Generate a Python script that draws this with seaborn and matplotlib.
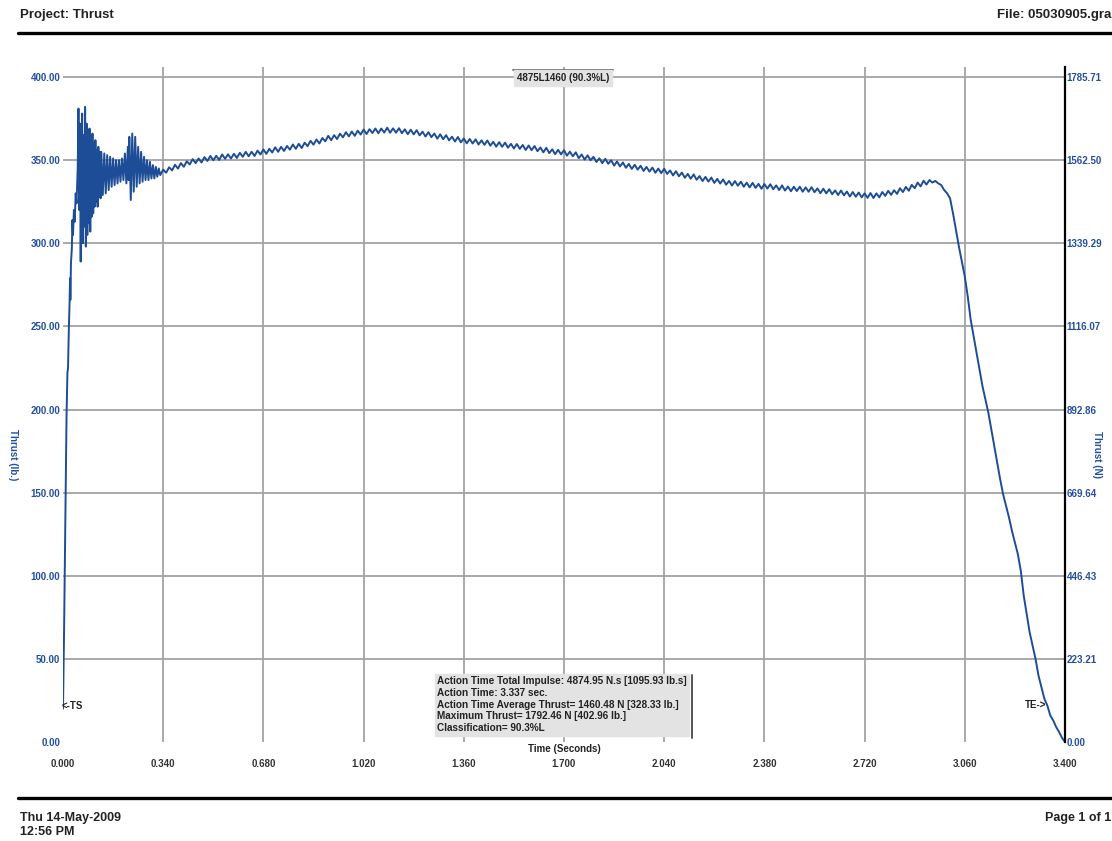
import matplotlib

matplotlib.use("Agg")
import matplotlib.pyplot as plt
import pandas as pd
import seaborn as sns
from matplotlib.lines import Line2D

# ---- data (time in s, thrust in lb) ----
startup_time = [
    0.000, 0.004, 0.008, 0.012, 0.015, 0.017, 0.020, 0.022, 0.024, 0.025,
    0.027, 0.030, 0.032, 0.034, 0.037, 0.040, 0.043, 0.046,
    0.0500, 0.0525, 0.0550, 0.0575, 0.0600, 0.0625, 0.0650, 0.0675, 0.0700, 0.0725,
    0.0750, 0.0775, 0.0800, 0.0825, 0.0850, 0.0875, 0.0900, 0.0925, 0.0950, 0.0975,
    0.1000, 0.1025, 0.1050, 0.1075, 0.1100, 0.1125, 0.1150, 0.1175, 0.1200, 0.1225,
    0.1250, 0.1275, 0.1300,
    0.135, 0.140, 0.145, 0.150, 0.155, 0.160, 0.165, 0.170, 0.175, 0.180,
    0.185, 0.190, 0.195, 0.200, 0.205, 0.210, 0.215, 0.220, 0.2225, 0.225,
    0.230, 0.235, 0.240, 0.245, 0.250, 0.255, 0.260, 0.265, 0.270, 0.275,
    0.280, 0.285, 0.290, 0.295, 0.300, 0.305, 0.310, 0.315, 0.320, 0.325,
    0.330,
]
startup_thrust = [
    20, 72, 132, 196, 222, 225, 250, 262, 279, 266,
    288, 297, 314, 305, 320, 313, 330, 324,
    346, 381, 320, 372, 289, 360, 378, 300, 365, 310,
    382, 298, 372, 305, 368, 312, 369, 307, 362, 316,
    366, 318, 360, 322, 362, 325, 356, 322, 358, 328,
    355, 327, 355,
    329, 354, 330, 353, 332, 352, 334, 351, 335, 350,
    336, 350, 337, 351, 338, 354, 336, 358, 338, 364,
    326, 366, 331, 364, 334, 358, 336, 355, 337, 352,
    338, 350, 338, 349, 339, 347, 339, 346, 340, 345,
    341,
]

body_time = [
    0.34, 0.35, 0.36, 0.37, 0.38, 0.39, 0.40, 0.41, 0.42, 0.43,
    0.44, 0.45, 0.46, 0.47, 0.48, 0.49, 0.50, 0.51, 0.52, 0.53,
    0.54, 0.55, 0.56, 0.57, 0.58, 0.59, 0.60, 0.61, 0.62, 0.63,
    0.64, 0.65, 0.66, 0.67, 0.68, 0.69, 0.70, 0.71, 0.72, 0.73,
    0.74, 0.75, 0.76, 0.77, 0.78, 0.79, 0.80, 0.81, 0.82, 0.83,
    0.84, 0.85, 0.86, 0.87, 0.88, 0.89, 0.90, 0.91, 0.92, 0.93,
    0.94, 0.95, 0.96, 0.97, 0.98, 0.99, 1.00, 1.01, 1.02, 1.03,
    1.04, 1.05, 1.06, 1.07, 1.08, 1.09, 1.10, 1.11, 1.12, 1.13,
    1.14, 1.15, 1.16, 1.17, 1.18, 1.19, 1.20, 1.21, 1.22, 1.23,
    1.24, 1.25, 1.26, 1.27, 1.28, 1.29, 1.30, 1.31, 1.32, 1.33,
    1.34, 1.35, 1.36, 1.37, 1.38, 1.39, 1.40, 1.41, 1.42, 1.43,
    1.44, 1.45, 1.46, 1.47, 1.48, 1.49, 1.50, 1.51, 1.52, 1.53,
    1.54, 1.55, 1.56, 1.57, 1.58, 1.59, 1.60, 1.61, 1.62, 1.63,
    1.64, 1.65, 1.66, 1.67, 1.68, 1.69, 1.70, 1.71, 1.72, 1.73,
    1.74, 1.75, 1.76, 1.77, 1.78, 1.79, 1.80, 1.81, 1.82, 1.83,
    1.84, 1.85, 1.86, 1.87, 1.88, 1.89, 1.90, 1.91, 1.92, 1.93,
    1.94, 1.95, 1.96, 1.97, 1.98, 1.99, 2.00, 2.01, 2.02, 2.03,
    2.04, 2.05, 2.06, 2.07, 2.08, 2.09, 2.10, 2.11, 2.12, 2.13,
    2.14, 2.15, 2.16, 2.17, 2.18, 2.19, 2.20, 2.21, 2.22, 2.23,
    2.24, 2.25, 2.26, 2.27, 2.28, 2.29, 2.30, 2.31, 2.32, 2.33,
    2.34, 2.35, 2.36, 2.37, 2.38, 2.39, 2.40, 2.41, 2.42, 2.43,
    2.44, 2.45, 2.46, 2.47, 2.48, 2.49, 2.50, 2.51, 2.52, 2.53,
    2.54, 2.55, 2.56, 2.57, 2.58, 2.59, 2.60, 2.61, 2.62, 2.63,
    2.64, 2.65, 2.66, 2.67, 2.68, 2.69, 2.70, 2.71, 2.72, 2.73,
    2.74, 2.75, 2.76, 2.77, 2.78, 2.79, 2.80, 2.81, 2.82, 2.83,
    2.84, 2.85, 2.86, 2.87, 2.88, 2.89, 2.90, 2.91, 2.92, 2.93,
    2.94,
]
body_thrust = [
    344.3, 342.4, 345.7, 343.8, 347.2, 344.9, 348.2, 346.0, 349.3, 347.4,
    350.6, 348.2, 351.0, 348.6, 351.8, 349.5, 352.5, 349.9, 352.6, 350.1,
    353.4, 350.8, 353.5, 351.0, 353.8, 351.3, 354.4, 352.0, 355.0, 352.3,
    355.0, 352.5, 355.7, 353.4, 356.4, 353.8, 356.8, 354.6, 357.7, 355.0,
    358.0, 355.5, 358.5, 356.3, 359.4, 356.8, 359.8, 357.3, 360.5, 358.4,
    361.6, 359.3, 362.4, 360.0, 363.3, 361.3, 364.6, 362.0, 365.0, 362.7,
    365.9, 363.7, 366.8, 364.3, 367.2, 364.6, 367.7, 365.4, 368.4, 365.7,
    368.6, 366.3, 369.0, 366.2, 369.0, 366.6, 369.5, 366.5, 369.1, 366.5,
    369.2, 366.2, 368.5, 365.6, 368.3, 365.5, 368.0, 364.9, 367.1, 364.2,
    366.8, 363.8, 366.0, 362.9, 365.5, 362.6, 365.0, 361.9, 364.1, 361.2,
    363.9, 360.7, 363.0, 360.1, 362.7, 360.0, 362.5, 359.4, 361.9, 359.2,
    361.8, 358.7, 361.0, 358.1, 360.8, 358.0, 360.5, 357.5, 359.8, 357.0,
    359.7, 356.8, 359.1, 356.1, 358.8, 356.0, 358.5, 355.4, 357.6, 354.7,
    357.4, 354.2, 356.5, 353.6, 356.2, 353.5, 356.0, 352.7, 355.1, 352.3,
    354.7, 351.2, 353.4, 350.3, 352.9, 349.9, 352.0, 348.9, 351.1, 348.2,
    350.8, 347.8, 349.9, 346.7, 349.2, 346.2, 348.6, 345.4, 347.7, 344.7,
    347.2, 344.3, 346.6, 343.5, 345.9, 343.1, 345.5, 342.4, 344.9, 342.2,
    344.8, 341.7, 343.8, 340.8, 343.3, 340.3, 342.5, 339.4, 341.7, 338.8,
    341.4, 338.2, 340.4, 337.4, 339.9, 337.1, 339.5, 336.3, 338.7, 335.9,
    338.4, 335.2, 337.5, 334.7, 337.4, 334.6, 337.0, 334.0, 336.4, 333.6,
    336.3, 333.3, 335.7, 332.8, 335.6, 332.9, 335.5, 332.5, 334.8, 332.0,
    334.8, 331.7, 334.1, 331.3, 334.0, 331.4, 334.0, 331.0, 333.6, 331.0,
    333.7, 330.7, 333.0, 330.1, 332.8, 330.0, 332.5, 329.5, 331.8, 329.0,
    331.7, 328.8, 331.1, 328.1, 330.8, 328.0, 330.5, 327.6, 330.0, 327.3,
    330.2, 327.2, 330.0, 327.6, 330.8, 328.5, 331.5, 329.1, 331.9, 329.7,
    333.1, 330.8, 333.9, 331.6, 335.1, 333.1, 336.5, 334.2, 337.6, 335.3,
    338.0,
]

tail_time = [
    2.95, 2.96, 2.97, 2.98, 2.99, 3.00, 3.01, 3.02, 3.03, 3.04,
    3.05, 3.06, 3.07, 3.08, 3.09, 3.10, 3.11, 3.12, 3.13, 3.14,
    3.15, 3.16, 3.17, 3.18, 3.19, 3.20, 3.21, 3.22, 3.23, 3.24,
    3.25, 3.26, 3.27, 3.28, 3.29, 3.30, 3.31, 3.32, 3.33, 3.34,
    3.35, 3.36, 3.37, 3.38, 3.39, 3.40,
]
tail_thrust = [
    336.5, 337.5, 336.0, 335.0, 332.0, 330.0, 327.0, 318.0, 308.0, 298.0,
    289.0, 280.0, 268.0, 254.0, 244.0, 234.0, 224.0, 214.0, 206.0, 198.0,
    188.0, 178.0, 168.0, 158.0, 149.0, 142.0, 135.0, 127.0, 120.0, 113.0,
    103.0, 88.0, 77.0, 66.0, 58.0, 50.0, 40.0, 33.0, 26.0, 22.0,
    16.0, 13.0, 9.0, 6.0, 2.5, 0.0,
]

x_ticks = [0.000, 0.340, 0.680, 1.020, 1.360, 1.700, 2.040, 2.380, 2.720, 3.060, 3.400]
y_ticks = [0, 50, 100, 150, 200, 250, 300, 350, 400]
right_tick_labels = ["0.00", "223.21", "446.43", "669.64", "892.86", "1116.07",
                     "1339.29", "1562.50", "1785.71"]
stats_lines = [
    "Action Time Total Impulse: 4874.95 N.s [1095.93 lb.s]",
    "Action Time: 3.337 sec.",
    "Action Time Average Thrust= 1460.48 N [328.33 lb.]",
    "Maximum Thrust= 1792.46 N [402.96 lb.]",
    "Classification= 90.3%L",
]

LINE_BLUE = "#1d4d96"
LABEL_BLUE = "#23509e"
GRID_GREY = "#a3a3a3"
W, H = 1112, 841


def fx(px):
    return px / W


def fy(py):
    return 1 - py / H


def main() -> None:
    sns.set_style("white")
    plt.rcParams["font.family"] = ["Liberation Sans", "DejaVu Sans"]
    plt.rcParams["font.weight"] = "bold"

    curve = pd.DataFrame({
        "Time": startup_time + body_time + tail_time,
        "Thrust": startup_thrust + body_thrust + tail_thrust,
    })

    fig = plt.figure(figsize=(W / 100, H / 100), dpi=100)
    ax = fig.add_axes([fx(63), fy(742), fx(1002), 675 / H])

    sns.lineplot(data=curve, x="Time", y="Thrust", ax=ax, estimator=None,
                 sort=False, color=LINE_BLUE, linewidth=1.4)

    y_top = 400 + (77 - 67) / 1.6625
    ax.set_xlim(0, 3.4)
    ax.set_ylim(0, y_top)
    ax.set_xticks(x_ticks)
    ax.set_xticklabels([f"{t:.3f}" for t in x_ticks], fontsize=7, color="#333333",
                       fontweight="bold")
    ax.set_yticks(y_ticks)
    ax.set_yticklabels([f"{v:.2f}" for v in y_ticks], fontsize=7, color=LABEL_BLUE,
                       fontweight="bold")
    ax.tick_params(axis="x", length=0, pad=12)
    ax.tick_params(axis="y", length=0, pad=2)
    ax.set_xlabel("")
    ax.set_ylabel("")
    ax.grid(True, color=GRID_GREY, linewidth=1.3)
    ax.set_axisbelow(True)
    # no grid line on the zero baseline and the plot edges
    ax.yaxis.get_gridlines()[0].set_visible(False)
    ax.xaxis.get_gridlines()[0].set_visible(False)
    ax.xaxis.get_gridlines()[-1].set_visible(False)
    for side in ["left", "top", "bottom", "right"]:
        ax.spines[side].set_visible(False)

    ax2 = ax.twinx()
    ax2.set_ylim(0, y_top)
    ax2.set_yticks(y_ticks)
    ax2.set_yticklabels(right_tick_labels, fontsize=7, color=LABEL_BLUE, fontweight="bold")
    ax2.tick_params(axis="y", length=0, pad=1)
    for side in ["left", "top", "bottom"]:
        ax2.spines[side].set_visible(False)
    ax2.spines["right"].set_color("black")
    ax2.spines["right"].set_linewidth(1.6)

    # axis titles
    fig.text(fx(13), fy(455), "Thrust (lb.)", rotation=-90, ha="center", va="center",
             fontsize=7, color=LABEL_BLUE, fontweight="bold")
    fig.text(fx(1097), fy(455), "Thrust (N)", rotation=-90, ha="center", va="center",
             fontsize=7, color=LABEL_BLUE, fontweight="bold")
    fig.text(fx(564), fy(749), "Time (Seconds)", ha="center", va="center",
             fontsize=7, color="#222222", fontweight="bold")

    # markers for thrust start / end
    fig.text(fx(62), fy(706), "<-TS", ha="left", va="center", fontsize=7,
             color="#222222", fontweight="bold")
    fig.text(fx(1046), fy(705), "TE->", ha="right", va="center", fontsize=7,
             color="#222222", fontweight="bold")

    # classification tag and summary box
    fig.text(fx(563), fy(78), "4875L1460 (90.3%L)", ha="center", va="center",
             fontsize=7, color="#222222", fontweight="bold",
             bbox=dict(boxstyle="square,pad=0.3", facecolor="#e3e3e3",
                       edgecolor="#e3e3e3"))
    fig.add_artist(Line2D([fx(513), fx(613)], [fy(70), fy(70)], color="#555555",
                          linewidth=1.2))
    fig.text(fx(437), fy(676), "\n".join(stats_lines), ha="left", va="top",
             fontsize=7.2, color="#222222", fontweight="bold", linespacing=1.22,
             bbox=dict(boxstyle="square,pad=0.25", facecolor="#e3e3e3",
                       edgecolor="#e3e3e3"))
    fig.add_artist(Line2D([fx(692), fx(692)], [fy(675), fy(738)], color="#555555",
                          linewidth=1.4))

    # page header and footer
    fig.text(fx(20), fy(15), "Project: Thrust", ha="left", va="center",
             fontsize=9.5, color="#222222", fontweight="bold")
    fig.text(fx(1111), fy(15), "File: 05030905.gra", ha="right", va="center",
             fontsize=9.5, color="#222222", fontweight="bold")
    fig.add_artist(Line2D([fx(18), 1.0], [fy(33), fy(33)], color="black", linewidth=2.4))
    fig.add_artist(Line2D([fx(18), 1.0], [fy(798), fy(798)], color="black", linewidth=2.4))
    fig.text(fx(20), fy(818), "Thu 14-May-2009", ha="left", va="center",
             fontsize=9, color="#222222", fontweight="bold")
    fig.text(fx(20), fy(832), "12:56 PM", ha="left", va="center",
             fontsize=9, color="#222222", fontweight="bold")
    fig.text(fx(1111), fy(818), "Page 1 of 1", ha="right", va="center",
             fontsize=9, color="#222222", fontweight="bold")

    fig.savefig("out.png", dpi=100)
    plt.close(fig)


if __name__ == "__main__":
    main()
